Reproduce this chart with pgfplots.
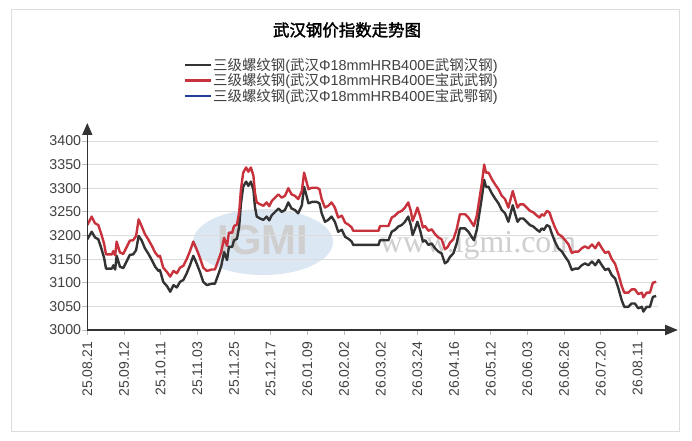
\documentclass[border=0pt]{standalone}
\usepackage{pgfplots}
\pgfplotsset{compat=1.18}
\usepackage{pgfplotstable}
\usepackage{fontspec}
\setmainfont{Liberation Sans}
\newfontfamily\cjk{Noto Sans CJK SC}
\newfontfamily\cjkbold{Noto Sans CJK SC}[FakeBold=2]
\newfontfamily\wmserif{Liberation Serif}
\usetikzlibrary{arrows.meta}
\definecolor{blk}{HTML}{333333}
\definecolor{redl}{HTML}{C8323C}
\definecolor{bluel}{HTML}{1F3F9F}
\definecolor{gridc}{HTML}{DCDCDC}
\definecolor{tickc}{HTML}{BBBBBB}
\definecolor{labc}{HTML}{404040}
\definecolor{framec}{HTML}{DDDDDD}
\definecolor{wmblue}{HTML}{DCE7F4}
\definecolor{wmgray}{HTML}{CFCFCF}
\newcommand{\zh}[1]{{\cjk #1}}

\pgfplotstableread{
x y
0.00 3192
0.12 3208
0.21 3196
0.30 3192
0.37 3176
0.46 3152
0.51 3130
0.67 3130
0.71 3137
0.76 3128
0.80 3157
0.89 3134
0.98 3131
1.07 3145
1.16 3159
1.25 3160
1.33 3169
1.40 3199
1.48 3190
1.57 3173
1.66 3162
1.76 3148
1.85 3134
1.94 3125
1.98 3127
2.07 3102
2.18 3092
2.26 3081
2.35 3095
2.44 3090
2.53 3102
2.62 3106
2.71 3120
2.80 3137
2.89 3157
2.98 3141
3.07 3123
3.16 3102
3.26 3095
3.39 3098
3.48 3098
3.56 3115
3.65 3135
3.73 3165
3.81 3148
3.86 3176
3.95 3176
4.00 3190
4.08 3193
4.14 3219
4.19 3268
4.25 3303
4.33 3314
4.39 3305
4.46 3314
4.53 3296
4.57 3261
4.62 3240
4.71 3236
4.80 3233
4.89 3240
4.96 3232
5.03 3243
5.12 3250
5.21 3257
5.30 3250
5.39 3254
5.48 3270
5.57 3257
5.66 3254
5.75 3247
5.85 3264
5.91 3303
5.96 3289
6.03 3268
6.12 3271
6.26 3271
6.33 3268
6.39 3247
6.48 3229
6.57 3233
6.66 3240
6.75 3229
6.84 3208
6.94 3212
7.03 3197
7.12 3193
7.21 3187
7.25 3180
7.94 3180
7.98 3190
8.21 3190
8.30 3208
8.39 3212
8.48 3219
8.57 3222
8.66 3229
8.75 3240
8.82 3222
8.87 3201
8.94 3215
9.00 3229
9.07 3212
9.15 3187
9.21 3190
9.30 3180
9.39 3183
9.48 3173
9.57 3166
9.66 3162
9.75 3141
9.82 3145
9.89 3155
9.98 3162
10.07 3183
10.16 3215
10.30 3215
10.39 3208
10.48 3197
10.54 3190
10.62 3212
10.69 3247
10.76 3282
10.82 3318
10.87 3303
10.94 3303
11.03 3289
11.12 3278
11.21 3268
11.30 3254
11.39 3247
11.48 3229
11.60 3264
11.66 3247
11.73 3229
11.80 3236
11.89 3236
11.98 3229
12.07 3222
12.16 3219
12.26 3212
12.33 3208
12.39 3215
12.45 3212
12.53 3222
12.60 3219
12.66 3205
12.75 3187
12.84 3173
12.94 3166
13.03 3155
13.12 3145
13.21 3127
13.30 3130
13.39 3130
13.48 3137
13.57 3141
13.66 3137
13.76 3145
13.85 3137
13.94 3148
14.03 3137
14.12 3127
14.21 3130
14.30 3116
14.39 3109
14.48 3088
14.57 3063
14.64 3049
14.75 3049
14.84 3056
14.93 3056
15.02 3046
15.12 3049
15.16 3039
15.25 3049
15.34 3049
15.42 3070
15.51 3072
}\blacktab

\pgfplotstableread{
x y
0.00 3222
0.12 3240
0.21 3226
0.30 3222
0.37 3206
0.46 3182
0.51 3160
0.67 3160
0.71 3167
0.76 3158
0.80 3187
0.89 3164
0.98 3161
1.07 3175
1.16 3189
1.25 3190
1.33 3199
1.40 3234
1.48 3220
1.57 3203
1.66 3192
1.76 3178
1.85 3164
1.94 3155
1.98 3157
2.07 3132
2.18 3122
2.26 3113
2.35 3125
2.44 3120
2.53 3132
2.62 3136
2.71 3150
2.80 3167
2.89 3187
2.98 3171
3.07 3153
3.16 3132
3.26 3125
3.39 3128
3.48 3128
3.56 3145
3.65 3165
3.73 3195
3.81 3178
3.86 3206
3.95 3206
4.00 3220
4.08 3223
4.14 3249
4.19 3298
4.25 3333
4.33 3344
4.39 3335
4.46 3344
4.53 3326
4.57 3291
4.62 3270
4.71 3266
4.80 3263
4.89 3270
4.96 3262
5.03 3273
5.12 3280
5.21 3287
5.30 3280
5.39 3284
5.48 3300
5.57 3287
5.66 3284
5.75 3277
5.85 3294
5.91 3333
5.96 3319
6.03 3298
6.12 3301
6.26 3301
6.33 3298
6.39 3277
6.48 3259
6.57 3263
6.66 3270
6.75 3259
6.84 3238
6.94 3242
7.03 3227
7.12 3223
7.21 3217
7.25 3210
7.94 3210
7.98 3220
8.21 3220
8.30 3238
8.39 3242
8.48 3249
8.57 3252
8.66 3259
8.75 3270
8.82 3252
8.87 3231
8.94 3245
9.00 3259
9.07 3242
9.15 3217
9.21 3220
9.30 3210
9.39 3213
9.48 3203
9.57 3196
9.66 3192
9.75 3171
9.82 3175
9.89 3185
9.98 3192
10.07 3213
10.16 3245
10.30 3245
10.39 3238
10.48 3227
10.54 3220
10.62 3242
10.69 3277
10.76 3312
10.82 3350
10.87 3333
10.94 3333
11.03 3319
11.12 3308
11.21 3298
11.30 3284
11.39 3277
11.48 3259
11.60 3294
11.66 3277
11.73 3259
11.80 3266
11.89 3266
11.98 3259
12.07 3252
12.16 3249
12.26 3242
12.33 3238
12.39 3245
12.45 3242
12.53 3252
12.60 3249
12.66 3235
12.75 3217
12.84 3203
12.94 3198
13.03 3190
13.12 3181
13.21 3163
13.30 3166
13.39 3166
13.48 3173
13.57 3177
13.66 3173
13.76 3181
13.85 3173
13.94 3185
14.03 3173
14.12 3163
14.21 3166
14.30 3150
14.39 3140
14.48 3118
14.57 3093
14.64 3079
14.75 3079
14.84 3086
14.93 3086
15.02 3076
15.12 3079
15.16 3069
15.25 3079
15.34 3079
15.42 3100
15.51 3102
}\redtab

\begin{document}
\begin{tikzpicture}[x=1bp,y=1bp]
\useasboundingbox (0,0) rectangle (692,441);
\fill[white] (0,0) rectangle (692,441);
\draw[framec, line width=1bp] (11,9) rectangle (679,431);
% watermark
\fill[wmblue] (263,199) ellipse [x radius=70, y radius=33];
\node[text=wmgray, font=\fontsize{42}{42}\selectfont\bfseries] at (263,201) {IGMI};
\node[text=wmgray, font=\fontsize{32}{32}\selectfont\wmserif] at (478,196) {www.igmi.com};
% title
\node[font=\fontsize{16.5}{18}\selectfont\cjkbold] at (347,411) {武汉钢价指数走势图};
\begin{axis}[
  at={(87.3bp,111bp)}, anchor=south west,
  scale only axis, width=570.7bp, height=189bp,
  xmin=0, xmax=15.56, ymin=3000, ymax=3400,
  axis line style={draw=none},
  ytick={3000,3050,...,3400},
  ymajorgrids, grid style={color=gridc, line width=0.8bp},
  xtick={0,...,15},
  xticklabels={25.08.21,25.09.12,25.10.11,25.11.03,25.11.25,25.12.17,26.01.09,26.02.02,26.03.02,26.03.24,26.04.16,26.05.12,26.06.03,26.06.26,26.07.20,26.08.11},
  tick pos=left, tick align=outside,
  major tick length=5bp,
  tick style={color=tickc, line width=0.8bp},
  xticklabel shift=6bp,
  xticklabel style={rotate=90, anchor=east, font=\fontsize{14}{16}\selectfont, text=labc, inner sep=1bp},
  yticklabel style={font=\fontsize{14.3}{16}\selectfont, text=labc, inner sep=1bp},
  /pgf/number format/assume math mode=true,
  /pgf/number format/1000 sep={},
  legend style={draw=none, fill=none, at={(0.169,1.445)}, anchor=north west,
    font=\fontsize{14.5}{16}\selectfont, text=labc, inner sep=0pt, row sep=0.3bp,
    nodes={inner sep=0.8bp}},
  legend cell align=left,
  legend image code/.code={\draw[#1] (0bp,0bp) -- (26bp,0bp);},
]
\addplot[blk, line width=2.4bp, line join=round] table[x=x,y=y] {\blacktab};
\addplot[redl, line width=2.4bp, line join=round] table[x=x,y=y] {\redtab};
\addlegendimage{bluel, line width=2.4bp}
\addlegendentry{\zh{三级螺纹钢}(\zh{武汉}Φ18mmHRB400E\zh{武钢汉钢})}
\addlegendentry{\zh{三级螺纹钢}(\zh{武汉}Φ18mmHRB400E\zh{宝武武钢})}
\addlegendentry{\zh{三级螺纹钢}(\zh{武汉}Φ18mmHRB400E\zh{宝武鄂钢})}
\end{axis}
% axis lines with arrows
\draw[blk, line width=1.6bp, -{Triangle[length=12bp,width=10bp]}] (87.3,111) -- (87.3,318);
\draw[blk, line width=2.2bp, -{Triangle[length=13bp,width=10bp]}] (87.3,111) -- (678,111);
\end{tikzpicture}
\end{document}
